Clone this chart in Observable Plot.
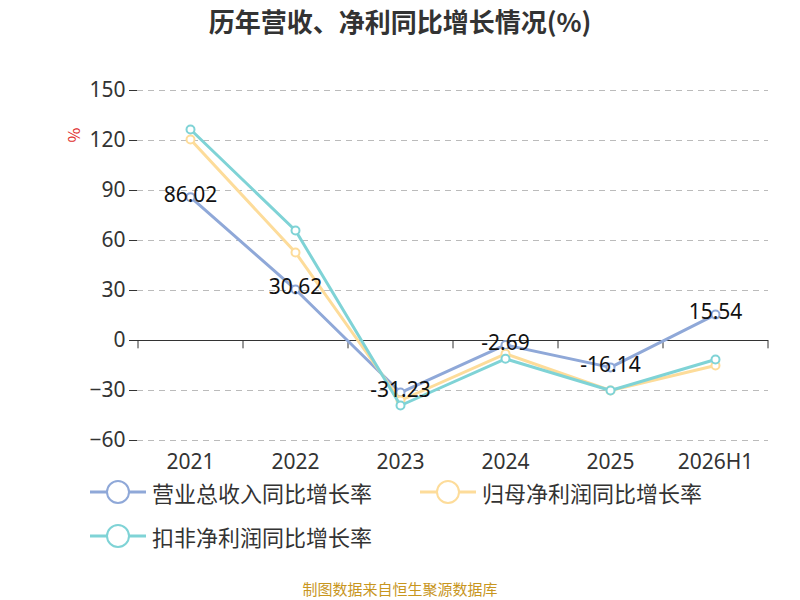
<!DOCTYPE html><html><head><meta charset="utf-8">
<script src="https://cdn.jsdelivr.net/npm/d3@7"></script>
<script src="https://cdn.jsdelivr.net/npm/@observablehq/plot@0.6"></script>
<style>
body{margin:0;width:800px;height:600px;font-family:"Noto Sans CJK SC","Noto Sans",sans-serif;position:relative;background:#fff}
#title{position:absolute;top:2px;width:800px;text-align:center;font-size:26px;font-weight:bold;color:#333}
#chart{position:absolute;top:50px;left:0}
.leg{position:absolute;font-size:22px;color:#333;display:flex;align-items:center}
.leg svg{margin-right:6px}
#src{position:absolute;top:578px;width:800px;text-align:center;font-size:15px;color:#c8961e}
#pct{position:absolute;left:68px;top:123px;color:#e03030;font-size:16px;transform:rotate(90deg)}
</style></head><body>
<div id="title">历年营收、净利同比增长情况(%)</div>
<div id="chart"></div>
<div id="pct">%</div>
<div class="leg" style="left:90px;top:476px"><svg width="56" height="26"><line x1="0" y1="13" x2="56" y2="13" stroke="#8fa8d8" stroke-width="3"/><circle cx="28" cy="13" r="11" fill="#fff" stroke="#8fa8d8" stroke-width="2"/></svg>营业总收入同比增长率</div>
<div class="leg" style="left:420px;top:476px"><svg width="56" height="26"><line x1="0" y1="13" x2="56" y2="13" stroke="#fddc9a" stroke-width="3"/><circle cx="28" cy="13" r="11" fill="#fff" stroke="#fddc9a" stroke-width="2"/></svg>归母净利润同比增长率</div>
<div class="leg" style="left:90px;top:520px"><svg width="56" height="26"><line x1="0" y1="13" x2="56" y2="13" stroke="#7fd3d6" stroke-width="3"/><circle cx="28" cy="13" r="11" fill="#fff" stroke="#7fd3d6" stroke-width="2"/></svg>扣非净利润同比增长率</div>
<div id="src">制图数据来自恒生聚源数据库</div>
<script>
const years=["2021","2022","2023","2024","2025","2026H1"];
const revenue=[86.02,30.62,-31.23,-2.69,-16.14,15.54];
const netProfit=[120.6,52.8,-36,-8,-30,-15];
const deducted=[126.6,66,-39,-11,-30,-11.4];
const yTicks=[-60,-30,0,30,60,90,120,150];
const series=[["营业总收入同比增长率",revenue,"#8fa8d8"],["归母净利润同比增长率",netProfit,"#fddc9a"],["扣非净利润同比增长率",deducted,"#7fd3d6"]];
const rows=series.flatMap(([name,vals,c])=>vals.map((v,i)=>({year:years[i],v,name,c})));
const revRows=rows.filter(r=>r.name===series[0][0]);
const marks=[
 Plot.gridY(yTicks,{stroke:"#bbb",strokeDasharray:"6,5",strokeOpacity:1}),
 Plot.axisY(yTicks,{tickSize:8,fontSize:21,fill:"#333",stroke:"#333",label:null,tickPadding:4}),
 Plot.ruleY([0],{stroke:"#333"}),
 Plot.ruleX(years,{x:d=>d,y1:0,y2:-5,dx:52.5,stroke:"#333"}),
 Plot.ruleX([years[0]],{x:d=>d,y1:0,y2:-5,dx:-52.5,stroke:"#333"}),
];
series.forEach(([name,vals,c])=>{
 const d=rows.filter(r=>r.name===name);
 marks.push(Plot.line(d,{x:"year",y:"v",stroke:c,strokeWidth:3}));
 marks.push(Plot.dot(d,{x:"year",y:"v",stroke:c,fill:"#fff",r:4,strokeWidth:2}));
});
marks.push(Plot.text(revRows,{x:"year",y:"v",text:d=>d.v.toFixed(2),fontSize:21,fill:"#111",dy:-2}));
marks.push(Plot.axisX({tickSize:0,fontSize:21,fill:"#333",label:null,tickPadding:14}));
const chart=Plot.plot({width:800,height:430,marginLeft:137,marginRight:32,marginTop:40,marginBottom:40,
 x:{type:"point",domain:years,padding:0.5,range:[137.5,767.5]},
 y:{domain:[-60,150]},
 style:{fontFamily:"Noto Sans, sans-serif"},
 marks});
document.getElementById("chart").append(chart);
</script></body></html>
